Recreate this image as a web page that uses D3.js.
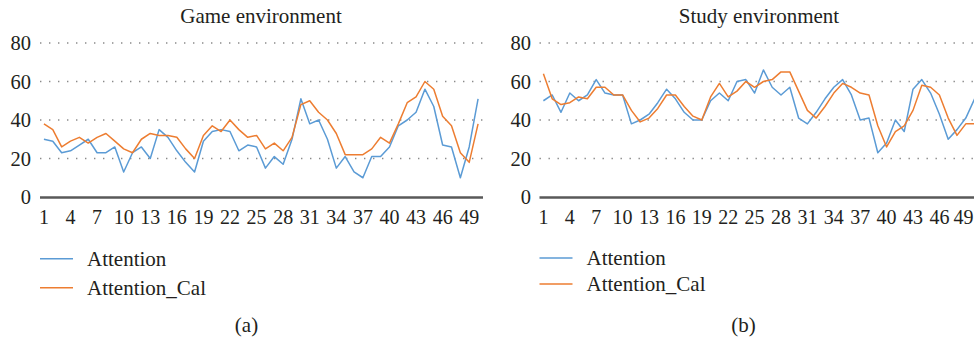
<!DOCTYPE html>
<html>
<head>
<meta charset="utf-8">
<script src="https://cdn.jsdelivr.net/npm/d3@7"></script>
<style>
  html, body { margin: 0; padding: 0; background: #fff; }
  svg { display: block; }
  svg text { font-family: "Liberation Serif", "Times New Roman", Times, "DejaVu Serif", serif !important; fill: #231f20; }
</style>
</head>
<body>
<svg id="chart" width="974" height="340"></svg>
<script>
// Sample index 1..50
const samples = d3.range(1, 51);
const tickSamples = d3.range(1, 51, 3);
const yTicks = [0, 20, 40, 60, 80];

// (a) Game environment
const gameAttention = [30,29,23,24,27,30,23,23,26,13,23,26,20,35,31,24,18,13,29,34,
                       35,34,24,27,26,15,21,17,30,51,38,40,30,15,21,13,10,21,21,26,
                       37,40,44,56,47,27,26,10,26,51];
const gameAttentionCal = [38,35,26,29,31,28,31,33,29,25,23,30,33,32,32,31,25,20,32,37,
                          34,40,35,31,32,25,28,24,31,48,50,44,40,33,22,22,22,25,31,28,
                          38,49,52,60,56,42,37,23,18,38];

// (b) Study environment
const studyAttention = [50,53,44,54,50,53,61,54,53,53,38,40,43,49,56,51,44,40,40,50,
                        54,50,60,61,54,66,57,53,57,41,38,44,51,57,61,53,40,41,23,28,
                        40,34,56,61,54,43,30,35,41,51];
const studyAttentionCal = [64,51,48,49,52,51,57,57,53,53,45,39,41,46,53,53,47,42,40,52,
                           59,52,55,60,57,60,61,65,65,55,45,41,47,54,59,57,54,53,37,26,
                           34,37,45,58,57,53,41,32,38,38];

const seriesNames = ["Attention", "Attention_Cal"];
const seriesColors = ["#5b9bd5", "#ed7d31"];
const serif = "'Liberation Serif', 'Times New Roman', Times, 'DejaVu Serif', serif";

const svg = d3.select("#chart");

const panels = [
  { title: "Game environment", caption: "(a)", data: [gameAttention, gameAttentionCal],
    x0: 39.5, x1: 482.5, labelRight: 31, legendX: 40, legendY: [258.7, 287.7], captionX: 246.5 },
  { title: "Study environment", caption: "(b)", data: [studyAttention, studyAttentionCal],
    x0: 539, x1: 979, labelRight: 531, legendX: 539.5, legendY: [258, 284], captionX: 743.5 }
];

const yTop = 43, yBottom = 197;
const width = 974;

panels.forEach(p => {
  const g = svg.append("g");

  const x = d3.scaleBand().domain(samples).range([p.x0, p.x1]);
  const y = d3.scaleLinear().domain([0, 80]).range([yBottom, yTop]);

  // dotted gridlines
  g.append("g")
    .selectAll("line")
    .data(yTicks.filter(t => t > 0))
    .join("line")
    .attr("x1", p.x0 + 0.5)
    .attr("x2", Math.min(p.x1, width))
    .attr("y1", d => y(d))
    .attr("y2", d => y(d))
    .attr("stroke", "#8a8a8a")
    .attr("stroke-width", 1.4)
    .attr("stroke-dasharray", "1.4 7.6");

  // y tick labels
  const yAxis = g.append("g")
    .attr("transform", `translate(${p.labelRight},0)`)
    .call(d3.axisLeft(y).tickValues(yTicks).tickSize(0).tickPadding(0))
    .attr("font-family", serif);
  yAxis.select(".domain").remove();
  yAxis.selectAll("text")
    .attr("font-size", 20.5)
    .attr("fill", "#231f20")
    .attr("dy", "0.33em");

  // category axis
  const xAxis = g.append("g")
    .attr("transform", `translate(0,${yBottom})`)
    .call(d3.axisBottom(x).tickValues(tickSamples).tickSize(0).tickPadding(0))
    .attr("font-family", serif);
  xAxis.select(".domain")
    .attr("stroke", "#595959")
    .attr("stroke-width", 2.6);
  xAxis.selectAll("text")
    .attr("font-size", 20)
    .attr("fill", "#231f20")
    .attr("y", 27)
    .attr("dy", 0);
  // keep the last category label inside the drawing area
  xAxis.selectAll(".tick").each(function () {
    const t = d3.select(this).select("text");
    const box = this.getBBox();
    const tx = d3.select(this).attr("transform").match(/translate\(([-\d.]+)/);
    const cx = tx ? +tx[1] : 0;
    const over = cx + box.width / 2 - (width - 0.5);
    if (over > 0) t.attr("x", -over);
  });

  // series lines
  const line = d3.line()
    .x((d, i) => x(samples[i]) + x.bandwidth() / 2)
    .y(d => y(d));

  p.data.forEach((values, k) => {
    g.append("path")
      .datum(values)
      .attr("fill", "none")
      .attr("stroke", seriesColors[k])
      .attr("stroke-width", 1.5)
      .attr("stroke-linejoin", "round")
      .attr("d", line);
  });

  // title
  g.append("text")
    .attr("x", (p.x0 + p.x1) / 2)
    .attr("y", 22.5)
    .attr("text-anchor", "middle")
    .attr("font-family", serif)
    .attr("font-size", 21)
    .text(p.title);

  // legend
  seriesNames.forEach((name, k) => {
    const ly = p.legendY[k];
    g.append("line")
      .attr("x1", p.legendX).attr("x2", p.legendX + 33)
      .attr("y1", ly).attr("y2", ly)
      .attr("stroke", seriesColors[k])
      .attr("stroke-width", 1.5);
    g.append("text")
      .attr("x", p.legendX + 47)
      .attr("y", ly + 7)
      .attr("font-family", serif)
      .attr("font-size", 21)
      .text(name);
  });

  // panel caption
  g.append("text")
    .attr("x", p.captionX)
    .attr("y", 331.5)
    .attr("text-anchor", "middle")
    .attr("font-family", serif)
    .attr("font-size", 21)
    .text(p.caption);
});
</script>
</body>
</html>
